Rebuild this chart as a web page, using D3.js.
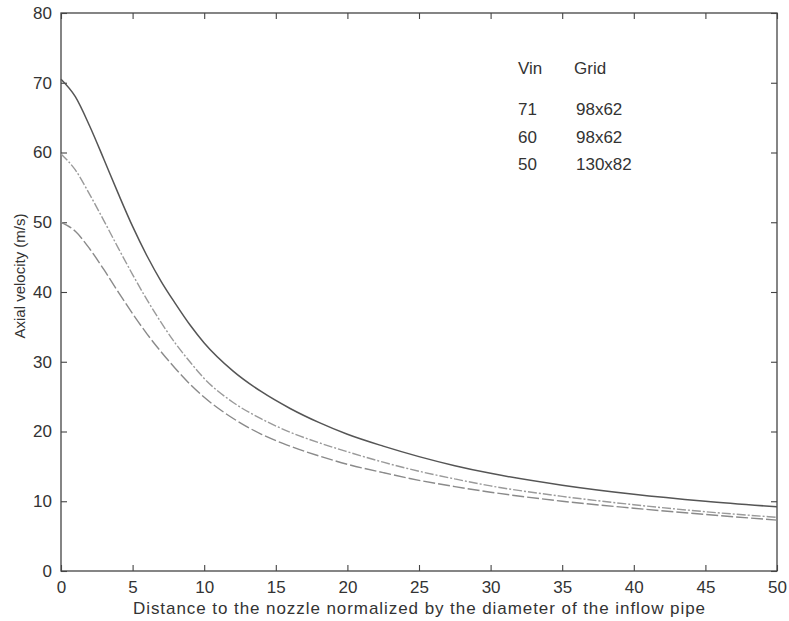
<!DOCTYPE html>
<html><head><meta charset="utf-8">
<script src="https://cdn.jsdelivr.net/npm/d3@7"></script>
<style>
body{margin:0;background:#fff;}
svg{display:block;}
text{font-family:"Liberation Sans",Arial,Helvetica,sans-serif;fill:#333;}
</style></head><body>
<svg id="chart" width="789" height="621"></svg>
<script>
const xs  = [0,1,2,3,4,5,6,7,8,9,10,12,14,16,18,20,22.5,25,27.5,30,35,40,45,50];
const v71 = [70.5,68.0,63.8,59.0,54.1,49.4,45.2,41.5,38.3,35.3,32.7,28.7,25.7,23.3,21.3,19.6,17.9,16.4,15.1,14.0,12.3,11.0,10.0,9.2];
const v60 = [59.8,57.5,54.0,50.2,46.3,42.5,38.9,35.6,32.6,30.0,27.6,24.2,21.8,19.9,18.4,17.1,15.6,14.3,13.2,12.2,10.7,9.5,8.5,7.7];
const v50 = [50.0,48.7,46.2,43.2,40.0,36.9,34.0,31.4,29.0,26.8,24.9,21.9,19.6,17.9,16.5,15.3,14.1,13.0,12.1,11.3,10.0,9.0,8.1,7.3];
const xTicks = [0,5,10,15,20,25,30,35,40,45,50];
const yTicks = [0,10,20,30,40,50,60,70,80];
const legendVin = ["71","60","50"];
const legendGrid = ["98x62","98x62","130x82"];

const svg = d3.select("#chart");
const L=61, R=777, T=13, B=571;
const x = d3.scaleLinear().domain([0,50]).range([L,R]);
const y = d3.scaleLinear().domain([0,80]).range([B,T]);
const axisCol="#444", tl=6;

const g = svg.append("g");
g.append("rect").attr("x",L).attr("y",T).attr("width",R-L).attr("height",B-T)
 .attr("fill","none").attr("stroke",axisCol).attr("stroke-width",1.3);

const axBottom = d3.axisBottom(x).tickValues(xTicks).tickSizeInner(-tl).tickSizeOuter(0).tickPadding(10);
const axTop = d3.axisTop(x).tickValues(xTicks).tickSizeInner(-tl).tickSizeOuter(0).tickFormat("");
const axLeft = d3.axisLeft(y).tickValues(yTicks).tickSizeInner(-tl).tickSizeOuter(0).tickPadding(9);
const axRight = d3.axisRight(y).tickValues(yTicks).tickSizeInner(-tl).tickSizeOuter(0).tickFormat("");
function styleAxis(sel){
  sel.select(".domain").remove();
  sel.selectAll(".tick line").attr("stroke",axisCol).attr("stroke-width",1.1);
  sel.selectAll(".tick text").attr("font-size",17).attr("fill","#333")
     .attr("font-family",'"Liberation Sans",Arial,sans-serif');
}
g.append("g").attr("transform",`translate(0,${B})`).call(axBottom).call(styleAxis);
g.append("g").attr("transform",`translate(0,${T})`).call(axTop).call(styleAxis);
g.append("g").attr("transform",`translate(${L},0)`).call(axLeft).call(styleAxis);
g.append("g").attr("transform",`translate(${R},0)`).call(axRight).call(styleAxis);

const series = [
  {vals:v71, color:"#555", dash:null, w:1.5},
  {vals:v60, color:"#9a9a9a", dash:"9,2,2,2", w:1.4},
  {vals:v50, color:"#8a8a8a", dash:"12,3", w:1.4}
];
const line = d3.line().x(d=>x(d[0])).y(d=>y(d[1])).curve(d3.curveMonotoneX);
series.forEach(s=>{
  g.append("path").datum(xs.map((v,i)=>[v,s.vals[i]]))
   .attr("d",line).attr("fill","none").attr("stroke",s.color)
   .attr("stroke-width",s.w).attr("stroke-dasharray",s.dash);
});

const lg = g.append("g").attr("font-size",17);
lg.append("text").attr("x",518).attr("y",74).text("Vin");
lg.append("text").attr("x",574).attr("y",74).text("Grid");
const rows=[115,143,170];
legendVin.forEach((t,i)=>lg.append("text").attr("x",518).attr("y",rows[i]).text(t));
legendGrid.forEach((t,i)=>lg.append("text").attr("x",576).attr("y",rows[i]).text(t));

svg.append("text").attr("x",133).attr("y",614)
  .attr("font-size",17).attr("textLength",572).attr("lengthAdjust","spacing")
  .text("Distance to the nozzle normalized by the diameter of the inflow pipe");
svg.append("text").attr("transform",`translate(25,276) rotate(-90)`).attr("text-anchor","middle")
  .attr("font-size",15).text("Axial velocity (m/s)");
</script>
</body></html>
